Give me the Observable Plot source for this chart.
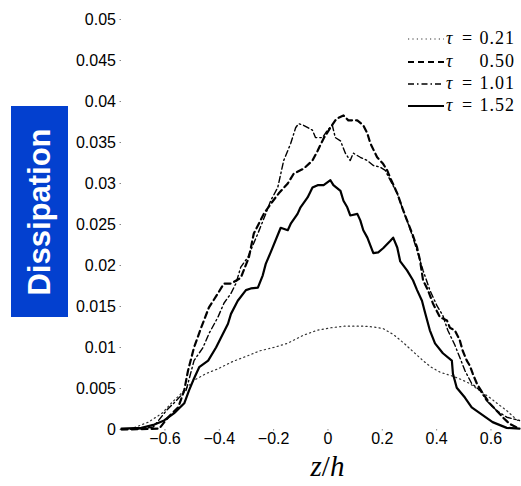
<!DOCTYPE html>
<html>
<head>
<meta charset="utf-8">
<script src="https://cdn.jsdelivr.net/npm/d3@7"></script>
<script src="https://cdn.jsdelivr.net/npm/@observablehq/plot@0.6"></script>
<style>
  html, body { margin: 0; padding: 0; background: #fff; }
  #wrap { position: relative; width: 521px; height: 486px; overflow: hidden; }
  #ylab { position: absolute; left: 11px; top: 106px; width: 57px; height: 211px; background: #0340cf; }
  #ylab span { position: absolute; left: 50%; top: 50%; transform: translate(-50%, -50%) rotate(-90deg);
    color: #fff; font: bold 31px "Liberation Sans", Arial, sans-serif; white-space: nowrap; }
  #xlab { position: absolute; left: 0; width: 521px; top: 452px; text-align: center; padding-left: 134px; box-sizing: border-box;
    font: 29px "Liberation Serif", "Times New Roman", serif; line-height: 1; color: #000; }
  #legend { position: absolute; left: 0; top: 0; }
</style>
</head>
<body>
<div id="wrap"></div>
<script>
// Data (z/h, dissipation)
const series = ["τ = 0.21", "τ = 0.50", "τ = 1.01", "τ = 1.52"];

const z021 = [-0.760,-0.723,-0.661,-0.610,-0.577,-0.540,-0.493,-0.450,-0.405,-0.350,-0.295,-0.250,-0.200,-0.150,-0.090,-0.040,0.009,0.060,0.130,0.170,0.203,0.240,0.277,0.310,0.350,0.380,0.412,0.440,0.460,0.490,0.522,0.560,0.595,0.630,0.658,0.698];
const d021 = [0,0.0001,0.0009,0.0020,0.0032,0.0044,0.0060,0.0068,0.0074,0.0083,0.0090,0.0096,0.0100,0.0105,0.0115,0.0121,0.0124,0.0126,0.0126,0.0125,0.0123,0.0116,0.0106,0.0096,0.0084,0.0076,0.0070,0.0067,0.0065,0.0061,0.0056,0.0047,0.0039,0.0030,0.0023,0.0011];

const z050 = [-0.760,-0.621,-0.588,-0.551,-0.529,-0.515,-0.493,-0.467,-0.438,-0.405,-0.383,-0.357,-0.321,-0.291,-0.273,-0.236,-0.211,-0.181,-0.148,-0.126,-0.090,-0.057,-0.038,-0.016,0.009,0.027,0.038,0.057,0.075,0.108,0.130,0.145,0.156,0.181,0.203,0.218,0.229,0.255,0.273,0.291,0.310,0.328,0.339,0.350,0.368,0.386,0.412,0.438,0.449,0.467,0.485,0.496,0.511,0.522,0.533,0.548,0.570,0.595,0.621,0.643,0.668,0.698];
const d050 = [0,0.0001,0.0015,0.0027,0.0048,0.0072,0.0100,0.0124,0.0149,0.0166,0.0178,0.0178,0.0185,0.0210,0.0239,0.0263,0.0275,0.0288,0.0300,0.0312,0.0318,0.0328,0.0340,0.0355,0.0368,0.0377,0.0380,0.0383,0.0377,0.0377,0.0371,0.0361,0.0349,0.0332,0.0324,0.0316,0.0307,0.0288,0.0271,0.0255,0.0239,0.0222,0.0206,0.0182,0.0170,0.0154,0.0137,0.0133,0.0124,0.0121,0.0109,0.0096,0.0084,0.0078,0.0068,0.0056,0.0044,0.0032,0.0023,0.0015,0.0007,0.0002];

const z101 = [-0.760,-0.687,-0.643,-0.595,-0.559,-0.522,-0.493,-0.460,-0.438,-0.405,-0.383,-0.357,-0.339,-0.321,-0.295,-0.258,-0.229,-0.211,-0.185,-0.163,-0.137,-0.119,-0.108,-0.090,-0.057,-0.046,-0.020,-0.002,0.016,0.027,0.046,0.064,0.082,0.093,0.119,0.145,0.167,0.192,0.211,0.229,0.255,0.277,0.295,0.313,0.328,0.350,0.375,0.401,0.423,0.441,0.467,0.485,0.504,0.529,0.559,0.584,0.621,0.658,0.705];
const d101 = [0,0.0001,0.0003,0.0023,0.0035,0.0048,0.0084,0.0100,0.0117,0.0137,0.0154,0.0166,0.0178,0.0198,0.0210,0.0239,0.0263,0.0279,0.0295,0.0328,0.0349,0.0368,0.0373,0.0371,0.0365,0.0356,0.0356,0.0365,0.0371,0.0356,0.0352,0.0337,0.0328,0.0337,0.0332,0.0328,0.0322,0.0320,0.0316,0.0304,0.0288,0.0267,0.0251,0.0234,0.0218,0.0194,0.0170,0.0151,0.0139,0.0121,0.0103,0.0088,0.0072,0.0056,0.0048,0.0035,0.0023,0.0015,0.0011];

const z152 = [-0.760,-0.687,-0.639,-0.603,-0.566,-0.529,-0.511,-0.496,-0.474,-0.441,-0.412,-0.394,-0.368,-0.357,-0.332,-0.302,-0.284,-0.258,-0.240,-0.229,-0.211,-0.174,-0.148,-0.137,-0.112,-0.101,-0.075,-0.057,-0.038,-0.016,0.009,0.020,0.046,0.057,0.071,0.082,0.108,0.119,0.130,0.145,0.167,0.185,0.203,0.229,0.240,0.255,0.266,0.291,0.313,0.328,0.346,0.357,0.375,0.394,0.423,0.456,0.460,0.474,0.504,0.529,0.559,0.606,0.658,0.705];
const d152 = [0.0001,0.0002,0.0006,0.0011,0.0020,0.0032,0.0048,0.0060,0.0076,0.0084,0.0100,0.0112,0.0129,0.0141,0.0157,0.0170,0.0172,0.0173,0.0188,0.0202,0.0216,0.0246,0.0243,0.0251,0.0263,0.0271,0.0283,0.0295,0.0298,0.0298,0.0304,0.0298,0.0291,0.0279,0.0271,0.0261,0.0263,0.0255,0.0243,0.0234,0.0215,0.0216,0.0221,0.0230,0.0234,0.0222,0.0205,0.0194,0.0182,0.0170,0.0157,0.0143,0.0121,0.0105,0.0093,0.0084,0.0068,0.0051,0.0039,0.0027,0.0020,0.0009,0.0002,0.0001];

const yTicks = [0,0.005,0.01,0.015,0.02,0.025,0.03,0.035,0.04,0.045,0.05];
const xTicks = [-0.6,-0.4,-0.2,0,0.2,0.4,0.6];

const mk = (zs, ds) => zs.map((z, i) => ({z, d: ds[i]}));
const rows021 = mk(z021, d021), rows050 = mk(z050, d050), rows101 = mk(z101, d101), rows152 = mk(z152, d152);

const styles = [
  {stroke: "#333", strokeWidth: 1.2, strokeDasharray: "1.2,3.2"},
  {stroke: "#000", strokeWidth: 2.2, strokeDasharray: "6,4"},
  {stroke: "#000", strokeWidth: 1.4, strokeDasharray: "6,3,1.5,3"},
  {stroke: "#000", strokeWidth: 2.2}
];

const fmtY = d => d === 0 ? "0" : String(d);
const fmtX = d => d === 0 ? "0" : (d < 0 ? "\u2212" + String(-d) : String(d));

const chart = Plot.plot({
  width: 521,
  height: 486,
  marginTop: 19,
  marginRight: 2,
  marginBottom: 57,
  marginLeft: 121,
  style: {fontFamily: "'Liberation Sans', Arial, sans-serif", fontSize: "16px", color: "#000", background: "#fff"},
  x: {domain: [-0.76, 0.705], ticks: xTicks, tickFormat: fmtX},
  y: {domain: [0, 0.05], ticks: yTicks, tickFormat: fmtY},
  marks: [
    Plot.axisY({ticks: yTicks, tickFormat: fmtY, tickSize: 1.5, tickPadding: 4, stroke: "#888", fill: "#000", fontSize: 16, label: null}),
    Plot.axisX({ticks: xTicks, tickFormat: fmtX, tickSize: 1.5, tickPadding: 2, stroke: "#888", fill: "#000", fontSize: 16, label: null}),
    Plot.line(rows021, {x: "z", y: "d", ...styles[0]}),
    Plot.line(rows050, {x: "z", y: "d", ...styles[1]}),
    Plot.line(rows101, {x: "z", y: "d", ...styles[2]}),
    Plot.line(rows152, {x: "z", y: "d", ...styles[3]})
  ]
});

const wrap = document.getElementById("wrap");
wrap.appendChild(chart);

// Legend (top-right, no frame)
const ns = "http://www.w3.org/2000/svg";
const leg = document.createElementNS(ns, "svg");
leg.setAttribute("id", "legend");
leg.setAttribute("width", 521);
leg.setAttribute("height", 130);
const rowY = [39, 62, 84, 106];
series.forEach((name, i) => {
  const y = rowY[i];
  const ln = document.createElementNS(ns, "line");
  ln.setAttribute("x1", 408); ln.setAttribute("x2", 444);
  ln.setAttribute("y1", y); ln.setAttribute("y2", y);
  ln.setAttribute("stroke", styles[i].stroke);
  ln.setAttribute("stroke-width", styles[i].strokeWidth);
  if (styles[i].strokeDasharray) ln.setAttribute("stroke-dasharray", styles[i].strokeDasharray);
  leg.appendChild(ln);
  const parts = name.split(" ");
  const tau = document.createElementNS(ns, "text");
  tau.setAttribute("x", 446); tau.setAttribute("y", y + 5);
  tau.setAttribute("font-family", "'Liberation Serif', 'Times New Roman', serif");
  tau.setAttribute("font-style", "italic");
  tau.setAttribute("font-size", 18);
  tau.textContent = parts[0];
  leg.appendChild(tau);
  if (i !== 1) {
    const eq = document.createElementNS(ns, "text");
    eq.setAttribute("x", 462); eq.setAttribute("y", y + 5);
    eq.setAttribute("font-family", "'Liberation Serif', 'Times New Roman', serif");
    eq.setAttribute("font-size", 18);
    eq.textContent = parts[1];
    leg.appendChild(eq);
  }
  const num = document.createElementNS(ns, "text");
  num.setAttribute("x", 515); num.setAttribute("y", y + 5);
  num.setAttribute("text-anchor", "end");
  num.setAttribute("font-family", "'Liberation Serif', 'Times New Roman', serif");
  num.setAttribute("font-size", 18);
  num.setAttribute("letter-spacing", 1);
  num.textContent = parts[2];
  leg.appendChild(num);
});
wrap.appendChild(leg);

// Y label box
const yl = document.createElement("div");
yl.id = "ylab";
yl.innerHTML = "<span>Dissipation</span>";
wrap.appendChild(yl);

// X label
const xl = document.createElement("div");
xl.id = "xlab";
xl.innerHTML = "<i>z</i>/<i>h</i>";
wrap.appendChild(xl);
</script>
</body>
</html>
